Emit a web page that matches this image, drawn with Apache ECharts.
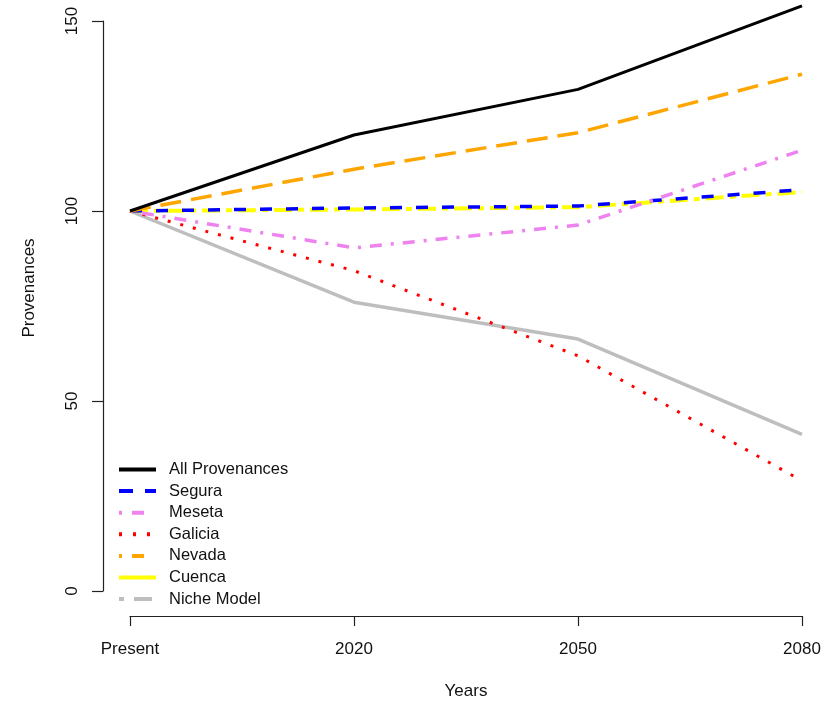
<!DOCTYPE html>
<html>
<head>
<meta charset="utf-8">
<script src="https://cdn.jsdelivr.net/npm/echarts@6/dist/echarts.min.js"></script>
<style>
html,body{margin:0;padding:0;background:#fff;}
#chart{width:826px;height:705px;}
</style>
</head>
<body>
<div id="chart"></div>
<script>
var categories = ["Present", "2020", "2050", "2080"];
var allProvenances = [100, 120, 132, 154];
var segura = [100, 100.8, 101.3, 105.6];
var meseta = [100, 90.3, 96.3, 116];
var galicia = [100, 84.3, 61.9, 29];
var nevada = [100, 111, 120.6, 136];
var cuenca = [100, 100.4, 101, 105];
var nicheModel = [100, 76, 66.3, 41.2];
var yTicks = {min: 0, max: 150, interval: 50};

var FONT = '"Liberation Sans", Arial, sans-serif';

function mk(name, data, color, width, dash, z) {
  return {
    name: name, type: 'line', data: data, symbol: 'none', clip: false,
    z: z,
    lineStyle: {color: color, width: width, type: dash, cap: 'butt'},
    itemStyle: {color: color},
    emphasis: {disabled: true},
    animation: false
  };
}

var series = [
  mk('All Provenances', allProvenances, '#000000', 3, 'solid', 7),
  mk('Nevada', nevada, '#FFA500', 3.5, [21, 10], 6),
  mk('Meseta', meseta, '#EE82EE', 3.5, [3, 9, 12, 9], 5),
  mk('Cuenca', cuenca, '#FFFF00', 4, [18, 6, 6, 6], 3),
  mk('Segura', segura, '#0000FF', 3.5, [12, 14], 4),
  mk('Galicia', galicia, '#FF0000', 3, [3, 10], 2),
  mk('Niche Model', nicheModel, '#BEBEBE', 3.5, 'solid', 1)
];

var legendData = [
  {name: 'All Provenances', lineStyle: {type: 'solid', width: 4}},
  {name: 'Segura', lineStyle: {type: [14, 12], width: 4}},
  {name: 'Meseta', lineStyle: {type: [3, 10, 12, 12], width: 4}},
  {name: 'Galicia', lineStyle: {type: [3, 11], width: 4}},
  {name: 'Nevada', lineStyle: {type: [3, 10, 12, 12], width: 4}},
  {name: 'Cuenca', lineStyle: {type: 'solid', width: 4}},
  {name: 'Niche Model', lineStyle: {type: [5, 10, 18, 10], width: 4}}
];

var chart = echarts.init(document.getElementById('chart'), null, {renderer: 'canvas'});
chart.setOption({
  animation: false,
  backgroundColor: '#ffffff',
  textStyle: {fontFamily: FONT},
  grid: {left: 130, right: 24, top: 21, bottom: 110, containLabel: false},
  legend: {
    orient: 'vertical', left: 117, top: 461, padding: 0,
    itemWidth: 37, itemHeight: 14, itemGap: 4.6,
    data: legendData,
    itemStyle: {opacity: 0, borderWidth: 0},
    lineStyle: {width: 4},
    textStyle: {fontFamily: FONT, fontSize: 16.5, lineHeight: 14, color: '#111', padding: [0, 0, 0, 8]},
    selectedMode: false
  },
  xAxis: {
    type: 'category', data: categories, boundaryGap: false, offset: 25,
    axisLine: {show: true, onZero: false, lineStyle: {color: '#222', width: 1.2}},
    axisTick: {show: true, length: 10, inside: false, alignWithLabel: true, lineStyle: {color: '#222', width: 1.2}},
    axisLabel: {fontFamily: FONT, fontSize: 17, color: '#111', margin: 25},
    splitLine: {show: false},
    name: 'Years', nameLocation: 'middle', nameGap: 67,
    nameTextStyle: {fontFamily: FONT, fontSize: 17, color: '#111'}
  },
  yAxis: {
    type: 'value', min: yTicks.min, max: yTicks.max, interval: yTicks.interval, offset: 27,
    axisLine: {show: true, onZero: false, lineStyle: {color: '#222', width: 1.2}},
    axisTick: {show: true, length: 11, inside: false, lineStyle: {color: '#222', width: 1.2}},
    axisLabel: {fontFamily: FONT, fontSize: 17, color: '#111', rotate: 90, margin: 22},
    splitLine: {show: false},
    name: 'Provenances', nameLocation: 'middle', nameGap: 65,
    nameTextStyle: {fontFamily: FONT, fontSize: 17, color: '#111', padding: [0, 0, 0, 36]}
  },
  series: series
});
</script>
</body>
</html>
